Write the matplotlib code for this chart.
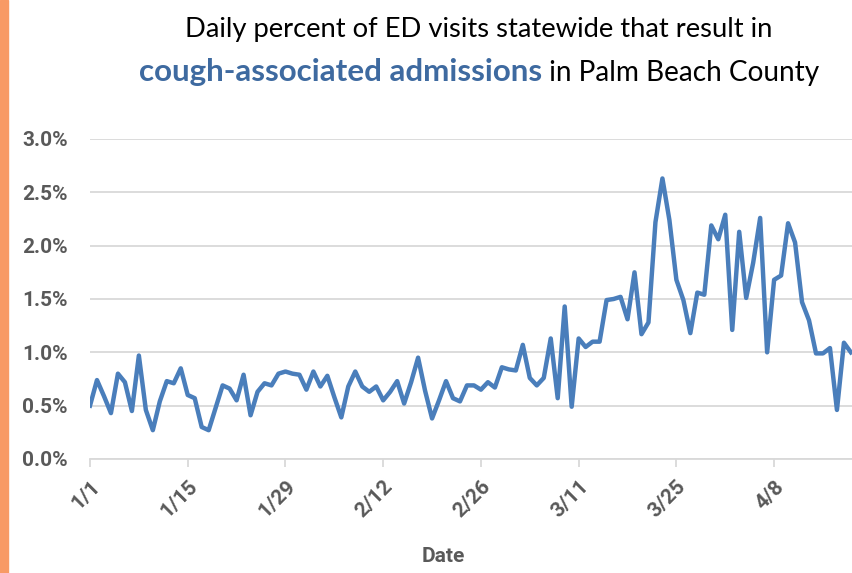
import numpy as np
import pandas as pd
import matplotlib
matplotlib.use('Agg')
import matplotlib.pyplot as plt

# daily percent of ED visits, 1/1 .. 4/19 (2020)
start_date = '2020-01-01'
pct = [0.50, 0.74, 0.59, 0.43, 0.80, 0.72, 0.45, 0.97, 0.46, 0.27,
       0.54, 0.73, 0.71, 0.85, 0.60, 0.57, 0.30, 0.27, 0.48, 0.69,
       0.66, 0.55, 0.79, 0.41, 0.63, 0.71, 0.69, 0.80, 0.82, 0.80,
       0.79, 0.65, 0.82, 0.68, 0.78, 0.58, 0.39, 0.68, 0.82, 0.68,
       0.63, 0.68, 0.55, 0.63, 0.73, 0.52, 0.72, 0.95, 0.64, 0.38,
       0.55, 0.73, 0.57, 0.54, 0.69, 0.69, 0.65, 0.72, 0.67, 0.86,
       0.84, 0.83, 1.07, 0.76, 0.69, 0.76, 1.13, 0.57, 1.43, 0.49,
       1.13, 1.05, 1.10, 1.10, 1.49, 1.50, 1.52, 1.31, 1.75, 1.17,
       1.28, 2.22, 2.63, 2.24, 1.68, 1.49, 1.18, 1.56, 1.54, 2.19,
       2.06, 2.29, 1.21, 2.13, 1.51, 1.84, 2.26, 1.00, 1.68, 1.72,
       2.21, 2.03, 1.47, 1.30, 0.99, 0.99, 1.04, 0.46, 1.09, 1.00]
y_ticks = [0.0, 0.5, 1.0, 1.5, 2.0, 2.5, 3.0]
tick_every = 14

title_line1 = 'Daily percent of ED visits statewide that result in'
title_bold = 'cough-associated admissions'
title_rest = ' in Palm Beach County'

dates = pd.date_range(start_date, periods=len(pct), freq='D')
x = np.arange(len(pct))
tick_pos = x[::tick_every]
tick_labels = ['%d/%d' % (d.month, d.day) for d in dates[::tick_every]]

gray = '#595959'
grid_c = '#D9D9D9'
line_c = '#4A7EBB'
tick_font = ['Roboto', 'DejaVu Sans']

fig = plt.figure(figsize=(8.53, 5.73), dpi=100)
# orange strip on the left edge
fig.patches.append(plt.Rectangle((0, 0), 8 / 853, 1, transform=fig.transFigure,
                                 color='#F89A65', zorder=0))

ax = fig.add_axes([90 / 853, 114 / 573, 1 - 90 / 853, 320 / 573])
ax.plot(x, pct, color=line_c, lw=3.2, zorder=3)

ax.set_xlim(0, 109.3)
ax.set_ylim(0, 3.0)
ax.set_yticks(y_ticks)
ax.set_yticklabels(['%.1f%%' % v for v in y_ticks], family=tick_font,
                   fontweight='bold', fontsize=15, color=gray)
ax.set_xticks(tick_pos)
ax.set_xticklabels(tick_labels, family=tick_font, fontweight='bold',
                   fontsize=15, color=gray, rotation=45, ha='right',
                   va='top', rotation_mode='anchor')
ax.tick_params(axis='y', length=0, pad=16)
ax.tick_params(axis='x', length=6, width=1.3, color=grid_c, pad=7)
ax.grid(axis='y', color=grid_c, lw=1.3, zorder=0)
for s in ['top', 'right', 'left']:
    ax.spines[s].set_visible(False)
ax.spines['bottom'].set_color(grid_c)
ax.spines['bottom'].set_linewidth(1.3)
ax.set_xlabel('Date', family=tick_font, fontweight='bold', fontsize=15,
              color=gray)
ax.xaxis.set_label_coords((443 - 90) / (853 - 90), -(557 - 459) / 320)
ax.xaxis.label.set_va('center')

# two-line title with a bold coloured phrase
cx = 479 / 853
fig.text(cx, 1 - 29 / 573, title_line1, ha='center', va='center',
         fontsize=19.7, family='Lato', color='black')
renderer = fig.canvas.get_renderer()
tb = fig.text(0, 0, title_bold, fontsize=22.6, family='Lato', fontweight='bold',
              color='#3E6AA0', va='baseline')
tr = fig.text(0, 0, title_rest, fontsize=20.2, family='Lato', color='black',
              va='baseline')
wb = tb.get_window_extent(renderer).width / fig.bbox.width
wr = tr.get_window_extent(renderer).width / fig.bbox.width
x0 = cx - (wb + wr) / 2
base = 1 - 81 / 573
tb.set_position((x0, base))
tr.set_position((x0 + wb, base))

fig.savefig('out.png', dpi=100)
